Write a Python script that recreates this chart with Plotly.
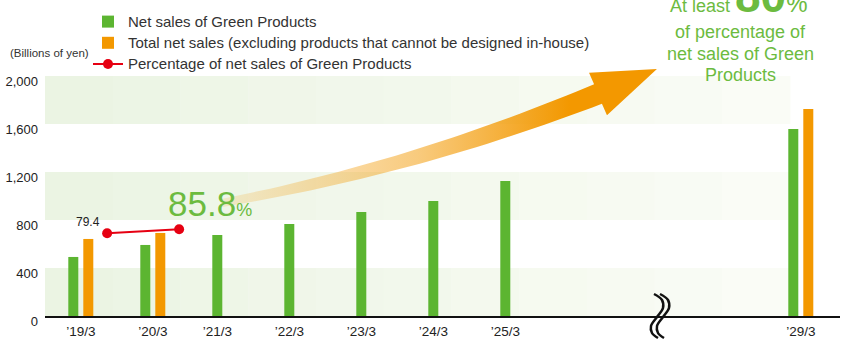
import numpy as np
import plotly.graph_objects as go

W, H = 844, 340

# ---------------- data ----------------
categories = ["’19/3", "’20/3", "’21/3", "’22/3", "’23/3", "’24/3", "’25/3", "’29/3"]
fiscal_years = [2019, 2020, 2021, 2022, 2023, 2024, 2025, 2029]
green_sales = [492, 592, 675, 767, 867, 958, 1125, 1558]
total_sales = [642, 692, None, None, None, None, None, 1725]
pct_years = [2019, 2020]
pct_values = [79.4, 85.8]
y_ticks = [0, 400, 800, 1200, 1600, 2000]
target_pct = 80
series_names = ["Net sales of Green Products",
                "Total net sales (excluding products that cannot be designed in-house)",
                "Percentage of net sales of Green Products"]

# ---------------- styles ----------------
GREEN = "#5cb531"
ORANGE = "#f39800"
RED = "#e60012"
TXTGREEN = "#6cbb3f"
COND = "Liberation Sans, Arial, sans-serif"
REG = "Liberation Sans, Arial, Helvetica, sans-serif"


def leg(s):
    return f"<span style='font-size:15px'>{s}</span>"


PX_PER_UNIT = 72.0
X0_PX = 73.3
L_PX, R_PX = 45, 840
TOP_PX, BOT_PX = 76, 316

idx = [y - fiscal_years[0] for y in fiscal_years]
bw = 10 / PX_PER_UNIT
pair_shift = 15 / PX_PER_UNIT
tickvals = [i + (pair_shift / 2 if t is not None else 0) for i, t in zip(idx, total_sales)]

fig = go.Figure()

fig.add_trace(go.Bar(
    x=idx, y=green_sales, width=bw, offset=-bw / 2,
    marker=dict(color=GREEN, line=dict(width=0)),
    name=leg(series_names[0])))
fig.add_trace(go.Bar(
    x=idx, y=total_sales, width=bw, offset=pair_shift - bw / 2,
    marker=dict(color=ORANGE, line=dict(width=0)),
    name=leg(series_names[1])))

pct_x = [y - fiscal_years[0] + 0.47 for y in pct_years]
fig.add_trace(go.Scatter(
    x=pct_x, y=pct_values, yaxis="y2", mode="lines+markers",
    line=dict(color=RED, width=2), marker=dict(color=RED, size=10),
    name=leg(series_names[2])))

# ---------------- decorative arrow (pixel overlay) ----------------
def bez(t, p0, p1, p2):
    return (1 - t) ** 2 * p0 + 2 * (1 - t) * t * p1 + t ** 2 * p2

P0 = np.array([222.0, 203.0]); P1 = np.array([414.0, 168.0]); P2 = np.array([598.0, 94.0])
ts = np.linspace(0, 1, 40)
pts = np.array([bez(t, P0, P1, P2) for t in ts])
d = np.array([2 * (1 - t) * (P1 - P0) + 2 * t * (P2 - P1) for t in ts])
d /= np.linalg.norm(d, axis=1)[:, None]
n_up = np.stack([d[:, 1], -d[:, 0]], 1)
hw = 4 + (10.5 - 4) * ts
upper = pts + n_up * hw[:, None]
lower = pts - n_up * hw[:, None]
hd = np.array([59.0, -25.0]); hd /= np.linalg.norm(hd)
hn = np.array([hd[1], -hd[0]])
barb_up = P2 + hn * 23
barb_lo = P2 - hn * 23
tip = P2 + hd * 64
poly = np.vstack([upper, barb_up, tip, barb_lo, lower[::-1], upper[:1]])
fig.add_trace(go.Scatter(
    x=poly[:, 0], y=poly[:, 1], xaxis="x2", yaxis="y3", mode="lines",
    line=dict(width=0), fill="toself", showlegend=False, hoverinfo="skip",
    fillgradient=dict(type="horizontal", colorscale=[
        [0, "rgba(243,160,20,0.15)"], [0.45, "rgba(243,160,20,0.55)"],
        [0.8, "rgba(243,152,0,1)"], [1, "rgba(243,152,0,1)"]])))

# axis break symbol
for dx in (0, 6):
    bx = np.array([654, 662, 663, 657, 651, 652, 658]) + dx
    by = np.array([294, 300, 308, 317, 326, 333, 338])
    fig.add_trace(go.Scatter(x=bx, y=by, xaxis="x2", yaxis="y3", mode="lines",
                             line=dict(color="#111", width=2.5, shape="spline"),
                             showlegend=False, hoverinfo="skip"))

# ---------------- background bands (stepped fade) ----------------
shapes = []
c0 = np.array([235, 244, 227]); c1 = np.array([250, 252, 246])
edges = np.linspace(L_PX, 790, 12)
for lo_v, hi_v in [(0, 400), (800, 1200), (1600, 2000)]:
    for k in range(len(edges) - 1):
        f = k / (len(edges) - 2)
        c = (c0 + (c1 - c0) * f).round().astype(int)
        shapes.append(dict(type="rect", xref="paper", yref="y",
                           x0=edges[k] / W, x1=edges[k + 1] / W + 0.0005,
                           y0=lo_v, y1=hi_v, line=dict(width=0),
                           fillcolor=f"rgb({c[0]},{c[1]},{c[2]})", layer="below"))

# secondary axis for percentage line
p_per_px = 1.6
y2_lo = pct_values[0] - 82.7 * p_per_px
y2_hi = y2_lo + (BOT_PX - TOP_PX) * p_per_px

annotations = [
    dict(x=pct_x[0], y=pct_values[0], xref="x", yref="y2", text=f"{pct_values[0]}",
         showarrow=False, xshift=-19, yshift=11, font=dict(family=COND, size=12, color="#222")),
    dict(x=pct_x[1], y=pct_values[1], xref="x", yref="y2",
         text=f"{pct_values[1]}<span style='font-size:18px'>%</span>",
         showarrow=False, xanchor="left", yanchor="bottom", xshift=-13, yshift=4,
         font=dict(family=COND, size=35, color=TXTGREEN)),
    dict(x=8 / W, y=1 - 53 / H, xref="paper", yref="paper", text="(Billions of yen)",
         showarrow=False, xanchor="left", yanchor="middle",
         font=dict(family=COND, size=11.5, color="#333")),
    dict(x=739 / W, y=1 - 24 / H, xref="paper", yref="paper",
         text=f"At least <b><span style='font-size:46px'>{target_pct}</span></b><span style='font-size:24px'>%</span>",
         showarrow=False, xanchor="center", yanchor="bottom",
         font=dict(family=REG, size=18, color=TXTGREEN)),
]
for k, line in enumerate(["of percentage of", "net sales of Green", "Products"]):
    annotations.append(dict(x=740 / W, y=1 - (32 + 21.5 * k) / H, xref="paper", yref="paper",
                            text=line, showarrow=False, xanchor="center", yanchor="middle",
                            font=dict(family=REG, size=18, color=TXTGREEN)))

fig.update_layout(
    width=W, height=H, margin=dict(l=0, r=0, t=0, b=0, autoexpand=False),
    paper_bgcolor="white", plot_bgcolor="rgba(0,0,0,0)",
    barmode="overlay", showlegend=True,
    legend=dict(x=88 / W, y=1 - 6 / H, xanchor="left", yanchor="top",
                font=dict(family=REG, size=14, color="#333"),
                bgcolor="rgba(0,0,0,0)", itemwidth=30, tracegroupgap=0,
                traceorder="normal"),
    xaxis=dict(domain=[L_PX / W, R_PX / W], range=[(L_PX - X0_PX) / PX_PER_UNIT, (R_PX - X0_PX) / PX_PER_UNIT],
               tickmode="array", tickvals=tickvals, ticktext=categories,
               showgrid=False, zeroline=False, showline=True, linecolor="#111", linewidth=2,
               ticks="", ticklabelstandoff=2,
               tickfont=dict(family=COND, size=13.5, color="#222"), fixedrange=True),
    yaxis=dict(domain=[(H - BOT_PX) / H, (H - TOP_PX) / H], range=[0, 2000],
               tickmode="array", tickvals=y_ticks, ticktext=[f"{v:,}" for v in y_ticks],
               showgrid=False, zeroline=False, showline=False, ticks="",
               ticklabelshift=5, ticklabelstandoff=6,
               tickfont=dict(family=COND, size=13, color="#222")),
    yaxis2=dict(overlaying="y", range=[y2_lo, y2_hi], visible=False),
    xaxis2=dict(domain=[0, 1], range=[0, W], visible=False, anchor="y3"),
    yaxis3=dict(domain=[0, 1], range=[H, 0], visible=False, anchor="x2"),
    shapes=shapes, annotations=annotations,
)

fig.write_html("out.html")
